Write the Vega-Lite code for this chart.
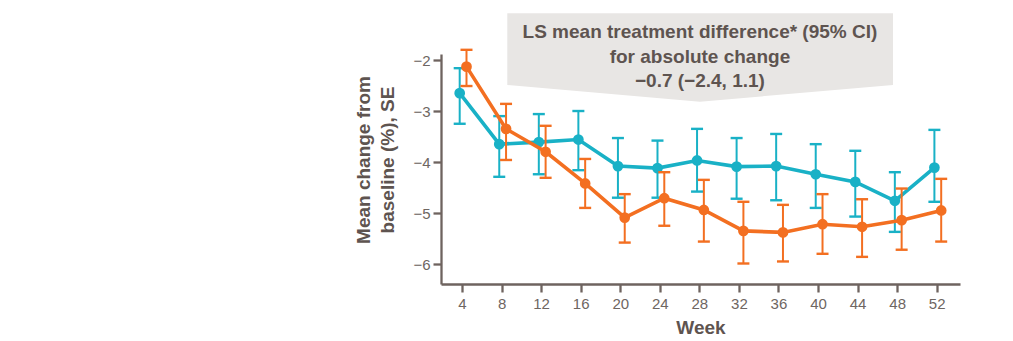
{
  "$schema": "https://vega.github.io/schema/vega-lite/v6.json",
  "width": 519,
  "height": 230,
  "autosize": "none",
  "padding": {"left": 441, "top": 54, "right": 53, "bottom": 57},
  "background": "white",
  "config": {
    "view": {"stroke": null},
    "font": "Liberation Sans",
    "axis": {
      "grid": false,
      "domainColor": "#6E635F",
      "domainWidth": 2.3,
      "tickColor": "#6E635F",
      "tickWidth": 2.3,
      "tickSize": 8,
      "labelFont": "Liberation Sans",
      "labelFontSize": 15,
      "labelColor": "#6E6662",
      "titleFont": "Liberation Sans",
      "titleFontSize": 19,
      "titleFontWeight": "bold",
      "titleColor": "#5E5450"
    }
  },
  "datasets": {
    "series": [
      {"group": "T", "week": 4, "mean": -2.65, "lo": -3.25, "hi": -2.16},
      {"group": "T", "week": 8, "mean": -3.65, "lo": -4.29, "hi": -3.10},
      {"group": "T", "week": 12, "mean": -3.61, "lo": -4.24, "hi": -3.06},
      {"group": "T", "week": 16, "mean": -3.56, "lo": -4.16, "hi": -3.00},
      {"group": "T", "week": 20, "mean": -4.08, "lo": -4.70, "hi": -3.53},
      {"group": "T", "week": 24, "mean": -4.12, "lo": -4.70, "hi": -3.58},
      {"group": "T", "week": 28, "mean": -3.97, "lo": -4.58, "hi": -3.35},
      {"group": "T", "week": 32, "mean": -4.09, "lo": -4.72, "hi": -3.53},
      {"group": "T", "week": 36, "mean": -4.08, "lo": -4.75, "hi": -3.45},
      {"group": "T", "week": 40, "mean": -4.24, "lo": -4.90, "hi": -3.65},
      {"group": "T", "week": 44, "mean": -4.39, "lo": -5.07, "hi": -3.78},
      {"group": "T", "week": 48, "mean": -4.76, "lo": -5.37, "hi": -4.20},
      {"group": "T", "week": 52, "mean": -4.11, "lo": -4.78, "hi": -3.37},
      {"group": "O", "week": 4, "mean": -2.13, "lo": -2.51, "hi": -1.80},
      {"group": "O", "week": 8, "mean": -3.35, "lo": -3.96, "hi": -2.86},
      {"group": "O", "week": 12, "mean": -3.80, "lo": -4.31, "hi": -3.29},
      {"group": "O", "week": 16, "mean": -4.42, "lo": -4.90, "hi": -3.94},
      {"group": "O", "week": 20, "mean": -5.09, "lo": -5.58, "hi": -4.63},
      {"group": "O", "week": 24, "mean": -4.71, "lo": -5.25, "hi": -4.20},
      {"group": "O", "week": 28, "mean": -4.94, "lo": -5.56, "hi": -4.35},
      {"group": "O", "week": 32, "mean": -5.35, "lo": -5.99, "hi": -4.78},
      {"group": "O", "week": 36, "mean": -5.38, "lo": -5.95, "hi": -4.84},
      {"group": "O", "week": 40, "mean": -5.22, "lo": -5.80, "hi": -4.63},
      {"group": "O", "week": 44, "mean": -5.27, "lo": -5.86, "hi": -4.73},
      {"group": "O", "week": 48, "mean": -5.14, "lo": -5.72, "hi": -4.52},
      {"group": "O", "week": 52, "mean": -4.95, "lo": -5.56, "hi": -4.33}
    ],
    "box": [
      {"week": 8.58, "top": -1.084, "bottom": -2.49},
      {"week": 28.06, "top": -1.084, "bottom": -2.818},
      {"week": 47.58, "top": -1.084, "bottom": -2.49}
    ],
    "note": [
      {"week": 28.06, "line1": -1.457}
    ]
  },
  "data": {"name": "series"},
  "encoding": {
    "x": {
      "field": "week",
      "type": "quantitative",
      "scale": {"domain": [1.877, 54.356], "nice": false, "zero": false},
      "axis": {
        "values": [4, 8, 12, 16, 20, 24, 28, 32, 36, 40, 44, 48, 52],
        "title": "Week",
        "labelPadding": 4,
        "titleY": 43.5,
        "titleBaseline": "middle"
      }
    },
    "y": {
      "field": "mean",
      "type": "quantitative",
      "scale": {"domain": [-6.392, -1.882], "nice": false, "zero": false},
      "axis": {
        "values": [-2, -3, -4, -5, -6],
        "title": ["Mean change from", "baseline (%), SE"],
        "titleLineHeight": 24,
        "titleAngle": -90,
        "titleX": -78,
        "titleY": 105.5,
        "titleAlign": "center",
        "titleBaseline": "middle",
        "labelPadding": 3
      }
    }
  },
  "layer": [
    {
      "data": {"name": "box"},
      "mark": {"type": "area", "color": "#E8E6E4", "opacity": 1, "clip": false},
      "encoding": {
        "y": {"field": "top", "type": "quantitative"},
        "y2": {"field": "bottom"}
      }
    },
    {
      "transform": [{"filter": "datum.group === 'T'"}],
      "mark": {"type": "rule", "color": "#19B1C6", "strokeWidth": 2, "xOffset": -2.3},
      "encoding": {
        "y": {"field": "lo", "type": "quantitative"},
        "y2": {"field": "hi"}
      }
    },
    {
      "transform": [{"filter": "datum.group === 'T'"}],
      "mark": {"type": "tick", "orient": "horizontal", "color": "#19B1C6", "size": 12, "thickness": 2.4, "opacity": 1, "xOffset": -2.3},
      "encoding": {
        "y": {"field": "lo", "type": "quantitative"}
      }
    },
    {
      "transform": [{"filter": "datum.group === 'T'"}],
      "mark": {"type": "tick", "orient": "horizontal", "color": "#19B1C6", "size": 12, "thickness": 2.4, "opacity": 1, "xOffset": -2.3},
      "encoding": {
        "y": {"field": "hi", "type": "quantitative"}
      }
    },
    {
      "transform": [{"filter": "datum.group === 'T'"}],
      "mark": {"type": "line", "color": "#19B1C6", "strokeWidth": 3.6, "xOffset": -2.3}
    },
    {
      "transform": [{"filter": "datum.group === 'T'"}],
      "mark": {"type": "point", "filled": true, "opacity": 1, "size": 115, "color": "#19B1C6", "xOffset": -2.3}
    },
    {
      "transform": [{"filter": "datum.group === 'O'"}],
      "mark": {"type": "rule", "color": "#F36F21", "strokeWidth": 2, "xOffset": 4.5},
      "encoding": {
        "y": {"field": "lo", "type": "quantitative"},
        "y2": {"field": "hi"}
      }
    },
    {
      "transform": [{"filter": "datum.group === 'O'"}],
      "mark": {"type": "tick", "orient": "horizontal", "color": "#F36F21", "size": 12, "thickness": 2.4, "opacity": 1, "xOffset": 4.5},
      "encoding": {
        "y": {"field": "lo", "type": "quantitative"}
      }
    },
    {
      "transform": [{"filter": "datum.group === 'O'"}],
      "mark": {"type": "tick", "orient": "horizontal", "color": "#F36F21", "size": 12, "thickness": 2.4, "opacity": 1, "xOffset": 4.5},
      "encoding": {
        "y": {"field": "hi", "type": "quantitative"}
      }
    },
    {
      "transform": [{"filter": "datum.group === 'O'"}],
      "mark": {"type": "line", "color": "#F36F21", "strokeWidth": 3.6, "xOffset": 4.5}
    },
    {
      "transform": [{"filter": "datum.group === 'O'"}],
      "mark": {"type": "point", "filled": true, "opacity": 1, "size": 115, "color": "#F36F21", "xOffset": 4.5}
    },
    {
      "data": {"name": "note"},
      "mark": {
        "type": "text",
        "text": ["LS mean treatment difference* (95% CI)", "for absolute change", "−0.7 (−2.4, 1.1)"],
        "font": "Liberation Sans",
        "fontSize": 19,
        "fontWeight": "bold",
        "color": "#5E5450",
        "lineHeight": 24.4,
        "align": "center",
        "baseline": "middle",
        "clip": false
      },
      "encoding": {
        "y": {"field": "line1", "type": "quantitative"}
      }
    }
  ]
}
